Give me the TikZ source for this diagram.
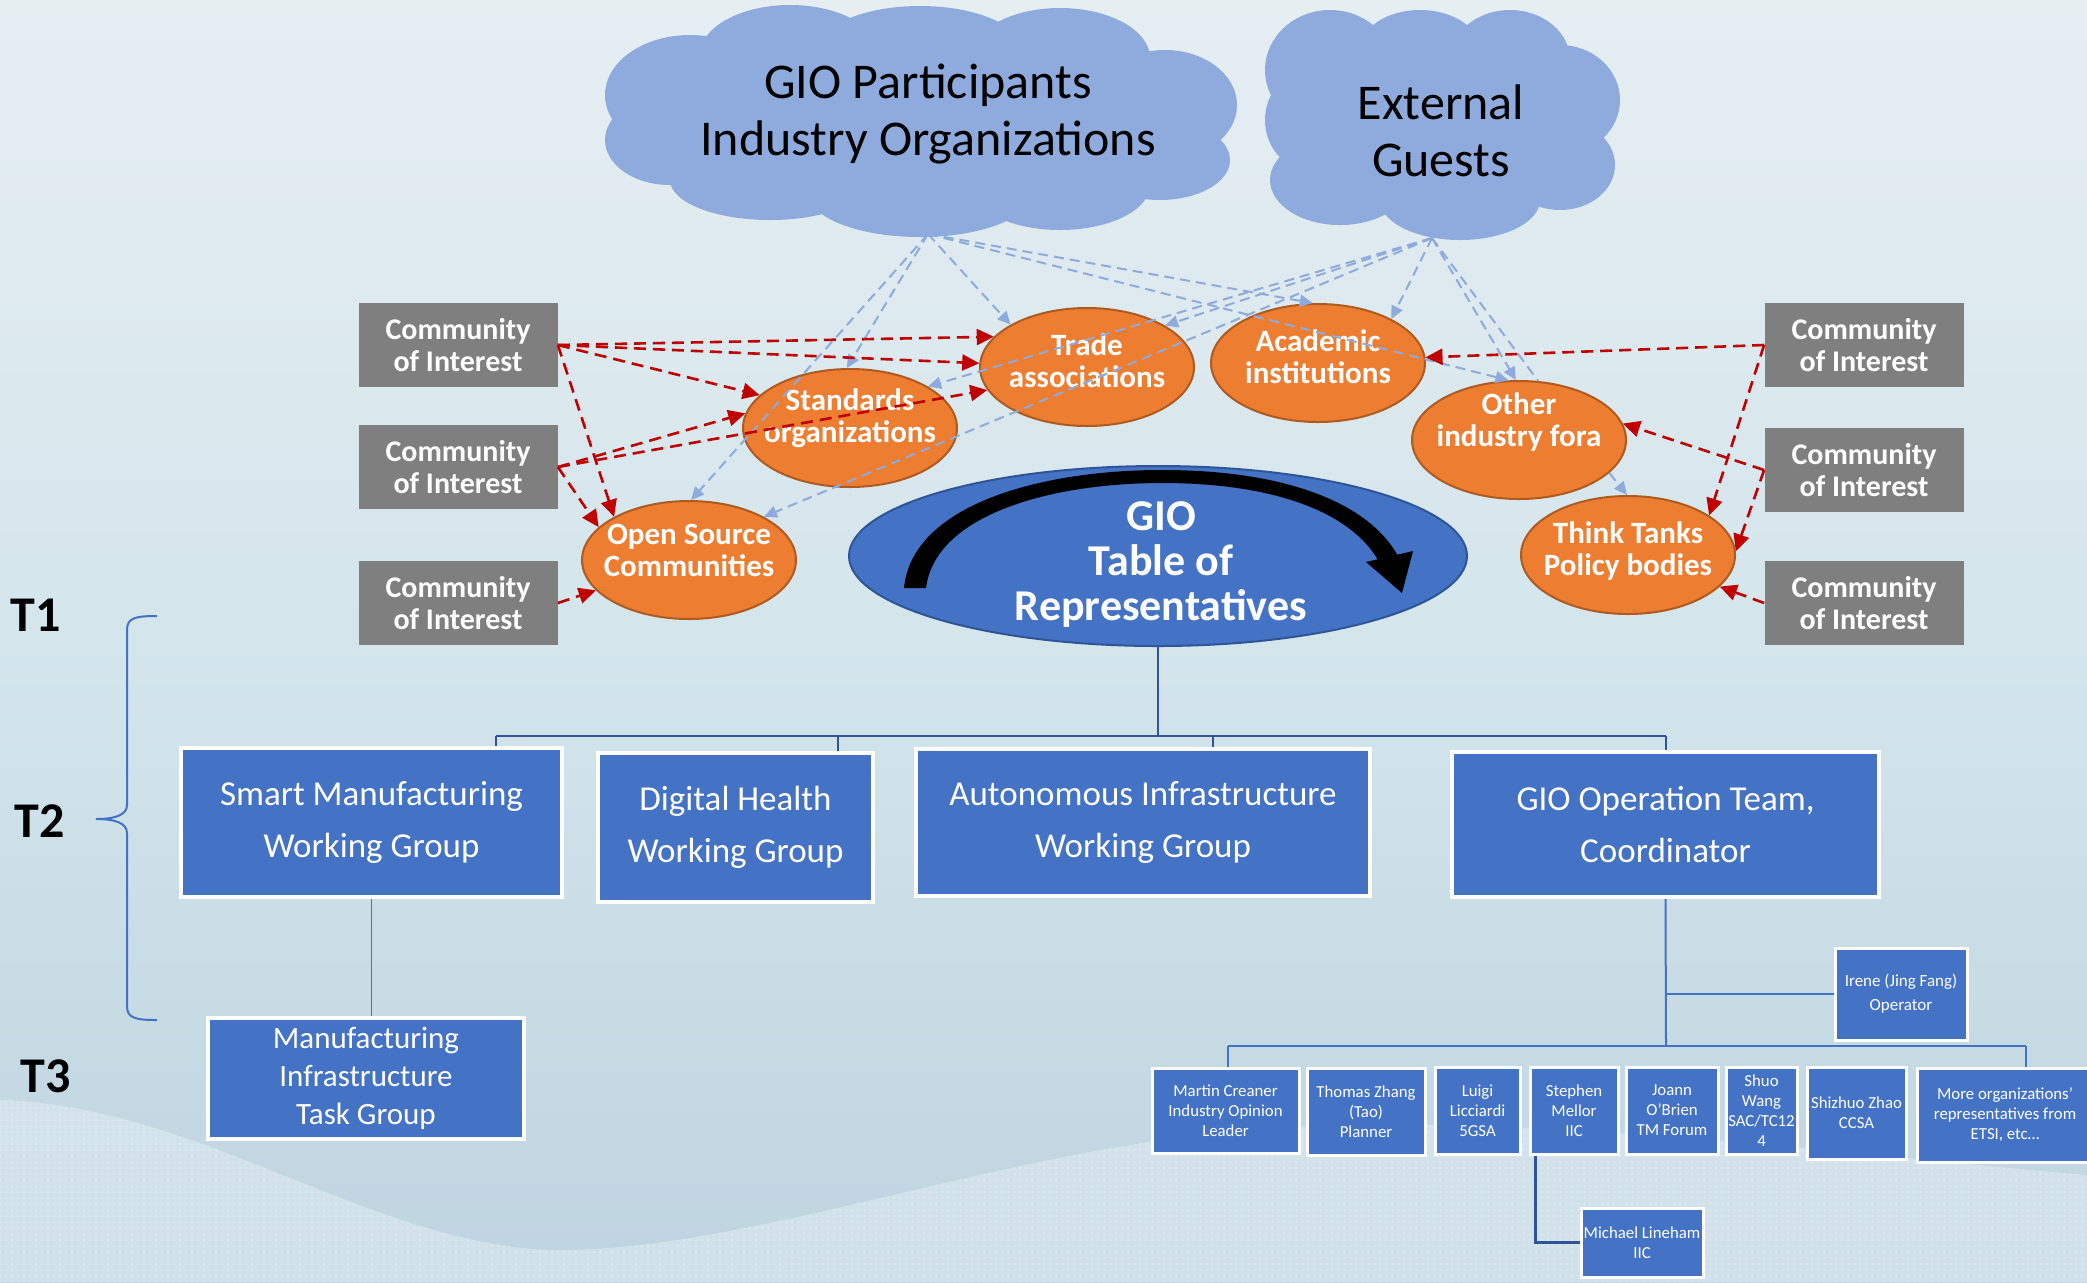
\documentclass[tikz,border=0pt]{standalone}
\usepackage{fontspec}
\setmainfont{Carlito}
\usetikzlibrary{arrows.meta,shapes.geometric,calc,patterns}
\definecolor{bgtop}{HTML}{E6EEF2}
\definecolor{bgmid}{HTML}{D4E5EC}
\definecolor{bgbot}{HTML}{BED4E0}
\definecolor{cloudc}{HTML}{8FAADC}
\definecolor{orgfill}{HTML}{ED7D31}
\definecolor{orgdraw}{HTML}{AE5A21}
\definecolor{coigray}{HTML}{7F7F7F}
\definecolor{boxblue}{HTML}{4472C4}
\definecolor{darkblue}{HTML}{2F5597}
\definecolor{arrred}{HTML}{C00000}
\definecolor{lblue}{HTML}{8FAADC}
\definecolor{wavec}{HTML}{E8F1F5}
\begin{document}
\begin{tikzpicture}[x=0.5pt,y=-0.5pt,
  cloudtxt/.style={align=center,text=black,font=\fontsize{25}{28.5}\selectfont},
  coi/.style={fill=coigray,text=white,font=\bfseries\fontsize{15}{16}\selectfont,align=center,minimum width=99.5pt,minimum height=42pt,inner sep=0pt},
  orgel/.style={ellipse,fill=orgfill,draw=orgdraw,line width=1pt,minimum width=107pt,minimum height=59pt,inner sep=0pt},
  orgtxt/.style={text=white,font=\bfseries\fontsize{15.5}{16}\selectfont,align=center,inner sep=0pt},
  tortxt/.style={text=white,font=\bfseries\fontsize{22}{22.5}\selectfont,align=center,inner sep=0pt},
  wgbox/.style={fill=boxblue,draw=white,line width=2pt,text=white,align=center,font=\fontsize{17.5}{26}\selectfont,inner sep=0pt},
  pbox/.style={fill=boxblue,draw=white,line width=1.5pt,text=white,align=center,font=\fontsize{8.4}{10}\selectfont,inner sep=0pt},
  tlabel/.style={text=black,font=\bfseries\fontsize{25}{25}\selectfont,inner sep=0pt},
  redarr/.style={draw=arrred,line width=1.3pt,dash pattern=on 6pt off 3.5pt,-{Triangle[length=8.5pt,width=8pt]}},
  bluearr/.style={draw=lblue,line width=1pt,dash pattern=on 5pt off 3pt,-{Triangle[length=6.5pt,width=6pt]}},
  bluenoarr/.style={draw=lblue,line width=1pt,dash pattern=on 5pt off 3pt},
  treeline/.style={draw=darkblue,line width=1pt},
  thinline/.style={draw=boxblue,line width=0.8pt},
  darkline/.style={draw=darkblue,line width=1.5pt}
]
\useasboundingbox (0,0) rectangle (2087,1282);
% background
\shade[top color=bgtop,bottom color=bgbot,middle color=bgmid] (0,0) rectangle (2087,1282);
\fill[wavec,opacity=0.45] (0,1100) .. controls (200,1105) and (380,1250) .. (560,1250) .. controls (750,1250) and (1000,1150) .. (1250,1130) .. controls (1500,1110) and (1800,1150) .. (2087,1175) -- (2087,1282) -- (0,1282) -- cycle;
\path[pattern=dots,pattern color=white,opacity=0.35] (0,1100) .. controls (200,1105) and (380,1250) .. (560,1250) .. controls (750,1250) and (1000,1150) .. (1250,1130) .. controls (1500,1110) and (1800,1150) .. (2087,1175) -- (2087,1282) -- (0,1282) -- cycle;

% clouds
\fill[cloudc] (922,122) ellipse [x radius=140pt,y radius=42.5pt]
  (690,95) ellipse [x radius=42.5pt,y radius=30pt]
  (790,55) ellipse [x radius=45pt,y radius=25pt]
  (920,48) ellipse [x radius=50pt,y radius=21pt]
  (1060,58) ellipse [x radius=45pt,y radius=25pt]
  (1165,105) ellipse [x radius=36pt,y radius=27.5pt]
  (1160,160) ellipse [x radius=35pt,y radius=20pt]
  (1060,185) ellipse [x radius=45pt,y radius=22.5pt]
  (920,195) ellipse [x radius=55pt,y radius=21pt]
  (770,180) ellipse [x radius=50pt,y radius=20pt]
  (670,140) ellipse [x radius=32.5pt,y radius=22.5pt];
\fill[cloudc] (1442,128) ellipse [x radius=75pt,y radius=42.5pt]
  (1330,70) ellipse [x radius=32.5pt,y radius=30pt]
  (1420,50) ellipse [x radius=30pt,y radius=20pt]
  (1510,60) ellipse [x radius=30pt,y radius=25pt]
  (1560,100) ellipse [x radius=30pt,y radius=27.5pt]
  (1560,165) ellipse [x radius=27.5pt,y radius=22.5pt]
  (1460,200) ellipse [x radius=40pt,y radius=20pt]
  (1340,180) ellipse [x radius=35pt,y radius=22.5pt]
  (1310,120) ellipse [x radius=22.5pt,y radius=25pt];
\node[cloudtxt] (gio) at (928,114) {GIO Participants\\Industry Organizations};
\node[cloudtxt] (ext) at (1441,131) {External\\Guests};
\coordinate (gioS) at (928,234);
\coordinate (extS) at (1432,238);

% community of interest boxes
\node[coi] (L1) at (458,345) {Community\\of Interest};
\node[coi] (L2) at (458,467) {Community\\of Interest};
\node[coi] (L3) at (458,603) {Community\\of Interest};
\node[coi] (R1) at (1864,345) {Community\\of Interest};
\node[coi] (R2) at (1864,470) {Community\\of Interest};
\node[coi] (R3) at (1864,603) {Community\\of Interest};

% orange ellipses
\node[orgel] (trade) at (1087,367) {};
\node[orgel] (academic) at (1318,363) {};
\node[orgel] (standards) at (850,428) {};
\node[orgel] (otherfora) at (1519,440) {};
\node[orgel] (opensource) at (689,560) {};
\node[orgel] (thinktanks) at (1628,555) {};
\node[orgtxt] (tradet) at (1087,361) {Trade\\associations};
\node[orgtxt] (academict) at (1318,357) {Academic\\institutions};
\node[orgtxt] (standardst) at (850,418) {Standards\\organizations};
\node[orgtxt] (otherforat) at (1519,422) {Other\\industry fora};
\node[orgtxt] (opensourcet) at (689,550) {Open Source\\Communities};
\node[orgtxt] (thinktankst) at (1628,551) {Think Tanks\\Policy bodies};

% tree lines
\coordinate (bus) at (1158,736);
\coordinate (b1) at (496,736);
\coordinate (b2) at (838,736);
\coordinate (b3) at (1213,736);
\coordinate (b4) at (1666,736);
\coordinate (pbus) at (1666,1046);
\coordinate (pb1) at (1228,1046);
\coordinate (pb2) at (2026,1046);

% GIO table of representatives
\node[ellipse,fill=boxblue,draw=darkblue,line width=1pt,minimum width=309pt,minimum height=90pt,inner sep=0pt] (tor) at (1158,556) {};
\fill[black] (904,588) .. controls (912,505) and (1040,470) .. (1162,470) .. controls (1290,470) and (1370,505) .. (1398,556)
  -- (1378,560) .. controls (1352,515) and (1280,483) .. (1162,483) .. controls (1050,483) and (935,515) .. (926,588) -- cycle;
\fill[black] (1366,562) -- (1413,551) -- (1402,593) -- cycle;
\node[tortxt] (tort) at (1161,565) {GIO\\Table of\\Representatives};

\draw[treeline] (tor.south) -- (bus);
\draw[treeline] (b1) -- (b4);

% working groups
\node[wgbox,minimum width=190.5pt,minimum height=74.5pt] (sm) at (371.5,822.5) {Smart Manufacturing\\Working Group};
\node[wgbox,minimum width=137.5pt,minimum height=74.5pt] (dh) at (735.5,827.5) {Digital Health\\Working Group};
\node[wgbox,minimum width=227pt,minimum height=73.5pt] (ai) at (1143,822.5) {Autonomous Infrastructure\\Working Group};
\node[wgbox,minimum width=213.5pt,minimum height=72.5pt] (op) at (1665.5,824.5) {GIO Operation Team,\\Coordinator};
\draw[treeline] (b1) -- (b1 |- sm.north);
\draw[treeline] (b2) -- (b2 |- dh.north);
\draw[treeline] (b3) -- (b3 |- ai.north);
\draw[treeline] (b4) -- (b4 |- op.north);

% T3
\node[wgbox,font=\fontsize{15.5}{19}\selectfont,minimum width=158pt,minimum height=60.5pt] (t3) at (366,1078.5) {Manufacturing\\Infrastructure\\Task Group};
\draw[thinline] (sm.south) -- (sm.south |- t3.north);

% operation team members
\node[pbox,font=\fontsize{8.5}{12}\selectfont,minimum width=66pt,minimum height=46pt] (irene) at (1901,994) {Irene (Jing Fang)\\Operator};
\draw[thinline,line width=1pt] (op.south) -- (pbus);
\draw[thinline,line width=1pt] (op.south |- irene.west) -- (irene.west);
\draw[thinline,line width=1pt] (pb1) -- (pb2);
\node[pbox,minimum width=73.5pt,minimum height=42.5pt] (martin) at (1225.5,1110.5) {Martin Creaner\\Industry Opinion\\Leader};
\node[pbox,minimum width=59pt,minimum height=43.5pt] (thomas) at (1366,1111.5) {Thomas Zhang\\(Tao)\\Planner};
\node[pbox,minimum width=42.5pt,minimum height=43.5pt] (luigi) at (1477.5,1111) {Luigi\\Licciardi\\5GSA};
\node[pbox,minimum width=44pt,minimum height=43.5pt] (stephen) at (1574,1111) {Stephen\\Mellor\\IIC};
\node[pbox,minimum width=46pt,minimum height=43.5pt] (joann) at (1672,1110.5) {Joann\\O'Brien\\TM Forum};
\node[pbox,minimum width=35.5pt,minimum height=43.5pt] (shuo) at (1761.5,1111) {Shuo\\Wang\\SAC/TC12\\4};
\node[pbox,minimum width=49.5pt,minimum height=46pt] (shizhuo) at (1856.5,1113) {Shizhuo Zhao\\CCSA};
\node[pbox,minimum width=88pt,minimum height=47pt] (more) at (2005,1115) {More organizations'\\representatives from\\ETSI, etc…};
\draw[thinline,line width=1pt] (pb1) -- (pb1 |- martin.north);
\draw[thinline,line width=1pt] (pb2) -- (pb2 |- more.north);
\node[pbox,minimum width=61pt,minimum height=34.5pt] (michael) at (1642,1242.5) {Michael Lineham\\IIC};
\draw[darkline] ($(stephen.south west)+(7,0)$) |- (michael.west);

% tier labels and brace
\node[tlabel] (t1l) at (36,615) {T1};
\node[tlabel] (t2l) at (40,821) {T2};
\node[tlabel] (t3l) at (46,1076) {T3};
\draw[boxblue,line width=1pt] (157,616) .. controls (135,616) and (127,618) .. (127,630) -- (127,805)
  .. controls (127,815) and (115,819) .. (96,819) .. controls (115,819) and (127,823) .. (127,833)
  -- (127,1006) .. controls (127,1018) and (135,1020) .. (157,1020);

% blue dashed arrows from clouds
\draw[bluearr] (gioS) -- (standards.93);
\draw[bluearr] (gioS) -- (opensource.88);
\draw[bluearr] (gioS) -- (trade.151);
\draw[bluearr] (gioS) -- (academic.95);
\draw[bluearr] (gioS) -- (otherfora.100);
\draw[bluearr] (extS) -- (trade.28);
\draw[bluearr] (extS) -- (standards.28);
\draw[bluearr] (extS) -- (opensource.30);
\draw[bluearr] (extS) -- (academic.31);
\draw[bluearr] (extS) -- (otherfora.93);
\draw[bluenoarr] (extS) -- (otherfora.72);
\draw[bluearr] (otherfora.340) -- (thinktanks.91);

% red dashed arrows from communities of interest
\draw[redarr] (L1.east) -- (trade.162);
\draw[redarr] (L1.east) -- (trade.178);
\draw[redarr] (L1.east) -- (standards.160);
\draw[redarr] (L1.east) -- (opensource.150);
\draw[redarr] (L2.east) -- (standards.172);
\draw[redarr] (L2.east) -- (trade.193);
\draw[redarr] (L2.east) -- (opensource.160);
\draw[redarr] (L3.east) -- (opensource.198);
\draw[redarr] (R1.west) -- (academic.3);
\draw[redarr] (R1.west) -- (thinktanks.26);
\draw[redarr] (R2.west) -- (otherfora.9);
\draw[redarr] (R2.west) -- (thinktanks.2);
\draw[redarr] (R3.west) -- (thinktanks.341);
\end{tikzpicture}
\end{document}
